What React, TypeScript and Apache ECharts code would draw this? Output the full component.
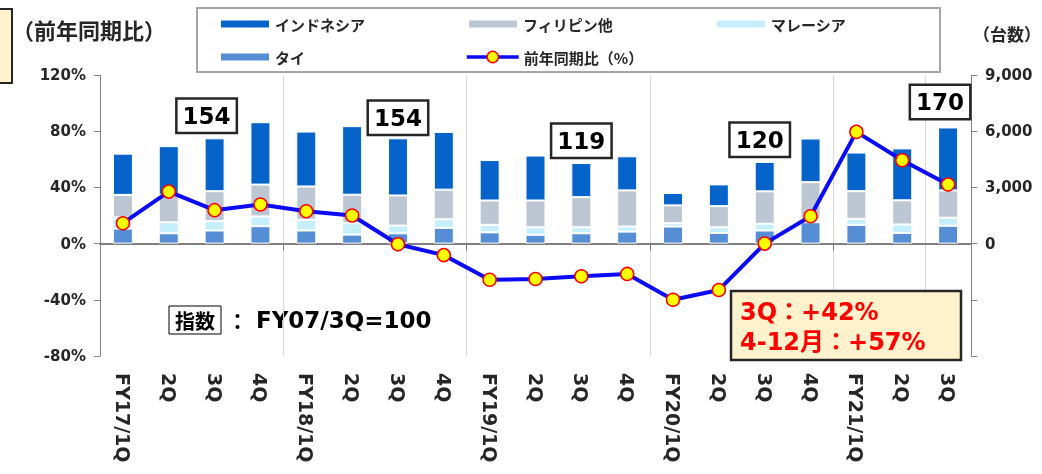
import React, { useEffect, useRef } from 'react';
import * as echarts from 'echarts';

// ---- data ----
const categories = ['FY17/1Q', '2Q', '3Q', '4Q', 'FY18/1Q', '2Q', '3Q', '4Q', 'FY19/1Q', '2Q', '3Q', '4Q', 'FY20/1Q', '2Q', '3Q', '4Q', 'FY21/1Q', '2Q', '3Q'];
const tai = [800, 550, 700, 930, 700, 480, 550, 840, 600, 470, 550, 640, 910, 570, 700, 1140, 1000, 570, 950];
const malaysia = [600, 590, 500, 520, 570, 610, 410, 460, 400, 400, 320, 270, 180, 300, 360, 150, 320, 450, 430];
const philippines = [1200, 1460, 1600, 1700, 1780, 1520, 1610, 1580, 1300, 1430, 1610, 1930, 950, 1130, 1730, 1990, 1480, 1290, 1460];
const indonesia = [2200, 2600, 2820, 3330, 2930, 3660, 3050, 3080, 2160, 2400, 1820, 1820, 660, 1160, 1570, 2330, 2060, 2770, 3360];
const yoyPct = [14.5, 37, 23.8, 27.8, 23, 20, -0.5, -8.2, -25.7, -25.2, -23.3, -21.6, -40, -33, 0, 19.5, 79.5, 59.3, 42];

// index annotations (FY07/3Q = 100)
const indexTexts = ['154', '154', '119', '120', '170'];
const indexCats = [2, 6, 10, 14, 18];
const indexLevels = [91, 89.6, 73.2, 73.9, 100.7]; // in % axis units
const indexShift = [-8, 0, 0, -5, -8];

const leftTitle = '（前年同期比）';
const rightTitle = '（台数）';
const noteLines = ['3Q：+42%', '4-12月：+57%'];

const NUM = '"DejaVu Sans", "Noto Sans CJK JP", sans-serif';
const JP = '"Noto Sans CJK JP", "DejaVu Sans", sans-serif';
const TXT = '#262626';

export default function App() {
  const ref = useRef<HTMLDivElement>(null);
  useEffect(() => {
    if (!ref.current) return;
    const chart = echarts.init(ref.current, null, { renderer: 'svg' });
    const legendText = { fontFamily: JP, fontWeight: 'bold', fontSize: 15, color: TXT, lineHeight: 18 };
    const legendCommon = {
      orient: 'vertical', top: 15, itemWidth: 50, itemHeight: 9, itemGap: 15, padding: 0,
      textStyle: legendText, selectedMode: false,
    };
    const barCommon = { type: 'bar', stack: 'total', yAxisIndex: 1, barWidth: 20 };
    chart.setOption({
      animation: false,
      grid: { left: 100, right: 71, top: 75, bottom: 118 },
      legend: [
        { ...legendCommon, left: 219, data: [{ name: 'インドネシア', icon: 'rect' }, { name: 'タイ', icon: 'rect' }] },
        { ...legendCommon, left: 467, data: [{ name: 'フィリピン他', icon: 'rect' }] },
        {
          ...legendCommon, left: 465, top: 48, itemWidth: 52, itemHeight: 14,
          lineStyle: { width: 3.5 }, itemStyle: { borderWidth: 1.5 },
          data: [{ name: '前年同期比（%）' }],
        },
        { ...legendCommon, left: 715, data: [{ name: 'マレーシア', icon: 'rect' }] },
      ],
      xAxis: [
        {
          type: 'category', data: categories, position: 'bottom',
          axisLine: { show: false, onZero: false }, axisTick: { show: false },
          axisLabel: { rotate: -90, margin: 17, interval: 0, fontSize: 19, fontWeight: 'bold', fontFamily: NUM, color: TXT },
          splitLine: { show: true, interval: 3, lineStyle: { color: '#D9D9D9', width: 1 } },
        },
        {
          type: 'category', data: categories, position: 'top',
          axisLine: { show: true, onZero: true, lineStyle: { color: '#808080', width: 2 } },
          axisTick: { show: true, inside: true, interval: 3, length: 7, lineStyle: { color: '#808080', width: 1 } },
          axisLabel: { show: false }, splitLine: { show: false },
        },
      ],
      yAxis: [
        {
          type: 'value', position: 'left', min: -80, max: 120, interval: 40,
          axisLine: { show: true, lineStyle: { color: '#868686' } },
          axisTick: { show: true, length: 6, lineStyle: { color: '#868686' } },
          splitLine: { show: false },
          axisLabel: { formatter: '{value}%', margin: 14, fontSize: 15, fontWeight: 'bold', fontFamily: NUM, color: TXT },
        },
        {
          type: 'value', position: 'right', min: -6000, max: 9000, interval: 3000,
          axisLine: { show: true, lineStyle: { color: '#868686' } },
          axisTick: { show: true, length: 6, lineStyle: { color: '#868686' } },
          splitLine: { show: false },
          axisLabel: {
            formatter: (v: number) => (v < 0 ? '' : v.toLocaleString('en-US')),
            margin: 14, fontSize: 15, fontWeight: 'bold', fontFamily: NUM, color: TXT,
          },
        },
      ],
      series: [
        { ...barCommon, name: 'タイ', data: tai, itemStyle: { color: '#558ED5', borderColor: '#fff', borderWidth: 1 } },
        { ...barCommon, name: 'マレーシア', data: malaysia, itemStyle: { color: '#C6EFFD', borderColor: '#fff', borderWidth: 1 } },
        { ...barCommon, name: 'フィリピン他', data: philippines, itemStyle: { color: '#BDC7D3', borderColor: '#fff', borderWidth: 1 } },
        { ...barCommon, name: 'インドネシア', data: indonesia, itemStyle: { color: '#0563C9', borderColor: '#fff', borderWidth: 1 } },
        {
          type: 'line', name: '前年同期比（%）', yAxisIndex: 0, data: yoyPct, z: 5,
          symbol: 'circle', symbolSize: 13,
          lineStyle: { color: '#0A0AF5', width: 4 },
          itemStyle: { color: '#FFFF00', borderColor: '#FF0000', borderWidth: 1.5 },
          markPoint: {
            symbol: 'circle', symbolSize: 1, itemStyle: { color: 'rgba(0,0,0,0)' },
            label: {
              show: true, position: 'inside', formatter: '{b}',
              fontSize: 23, fontWeight: 'bold', fontFamily: NUM, color: '#000',
              backgroundColor: '#fff', borderColor: '#262626', borderWidth: 2.5,
              padding: [4, 5, 2, 5], lineHeight: 26,
            },
            data: indexTexts.map((t, i) => ({
              name: t, coord: [indexCats[i], indexLevels[i]],
              label: { offset: [indexShift[i], 0] },
            })),
          },
        },
      ],
      graphic: [
        { type: 'rect', shape: { x: 197, y: 8, width: 743, height: 64 }, style: { fill: '#fff', stroke: '#A6A6A6', lineWidth: 2 }, z: -1 },
        { type: 'rect', shape: { x: -12, y: 9, width: 24, height: 74 }, style: { fill: '#FFF2CC', stroke: '#262626', lineWidth: 2 } },
        { type: 'text', x: 12, y: 29, style: { text: leftTitle, fontFamily: JP, fontWeight: 'bold', fontSize: 22, fill: TXT, verticalAlign: 'middle' } },
        { type: 'text', x: 973, y: 33, style: { text: rightTitle, fontFamily: JP, fontWeight: 'bold', fontSize: 17, fill: TXT, verticalAlign: 'middle' } },
        {
          type: 'text', x: 169, y: 308,
          style: {
            text: '{box|指数}{c|：}{t|FY07/3Q=100}',
            rich: {
              box: { fontFamily: JP, fontWeight: 'bold', fontSize: 20, fill: '#000', borderColor: '#000', borderWidth: 1, padding: [4, 6, 4, 6], lineHeight: 24 },
              c: { fontFamily: JP, fontWeight: 'bold', fontSize: 21, fill: '#000', padding: [0, 8, 0, 6] },
              t: { fontFamily: NUM, fontWeight: 'bold', fontSize: 23, fill: '#000' },
            },
          },
        },
        { type: 'rect', shape: { x: 731, y: 291, width: 230, height: 69 }, style: { fill: '#FFF2CC', stroke: '#262626', lineWidth: 2.5 }, z: 10 },
        { type: 'text', x: 740, y: 312, z: 11, style: { text: noteLines[0], fontFamily: NUM, fontWeight: 'bold', fontSize: 24, fill: '#FF0000', verticalAlign: 'middle' } },
        { type: 'text', x: 740, y: 342, z: 11, style: { text: noteLines[1], fontFamily: NUM, fontWeight: 'bold', fontSize: 24, fill: '#FF0000', verticalAlign: 'middle' } },
      ],
    });
    return () => chart.dispose();
  }, []);
  return <div ref={ref} style={{ position: 'fixed', left: 0, top: 0, width: 1042, height: 474 }} />;
}
